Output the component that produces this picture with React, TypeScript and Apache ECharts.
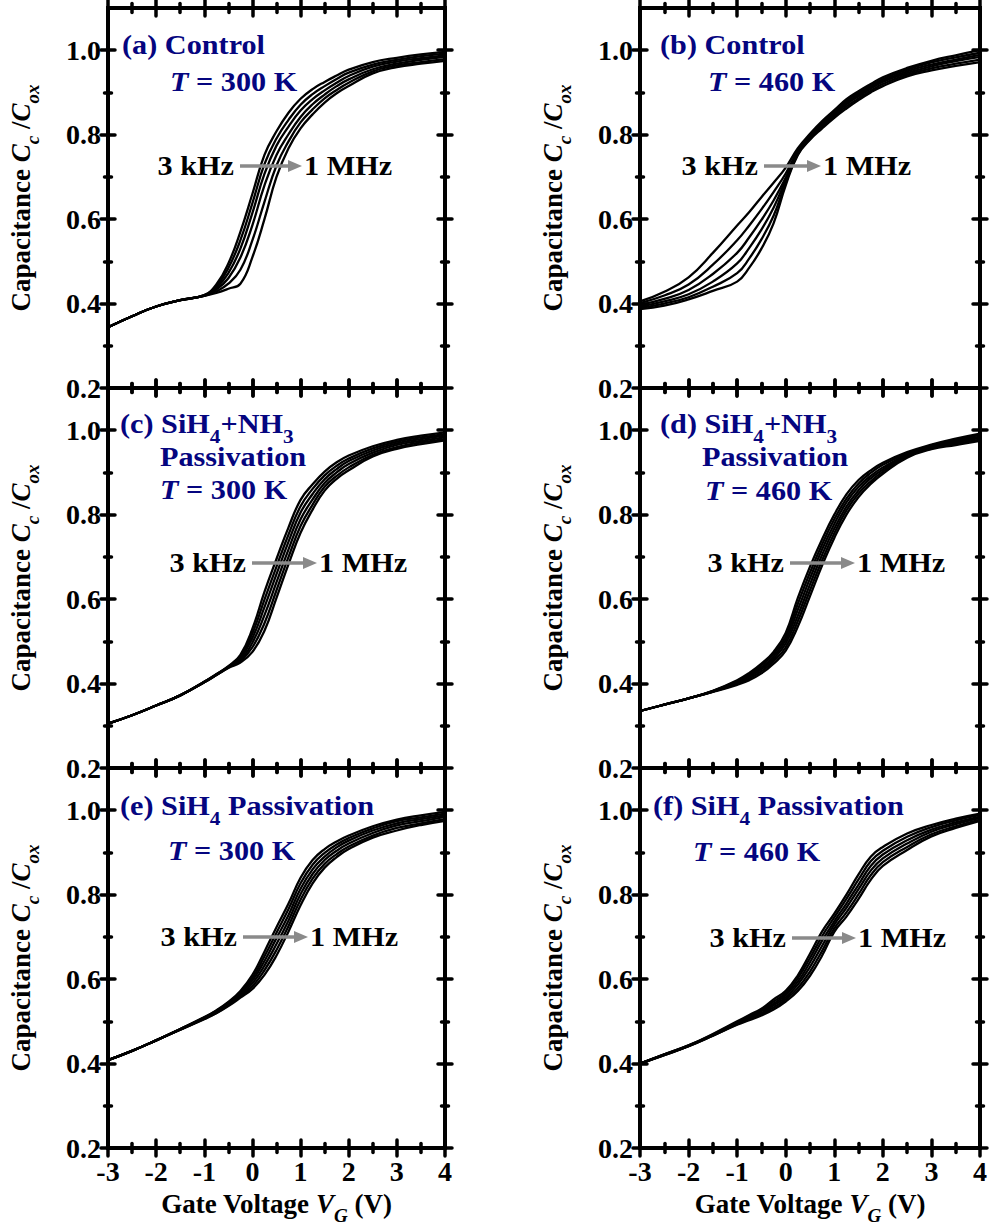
import { useEffect, useRef } from 'react';
import * as echarts from 'echarts';

// Gate voltage grid (V) shared by every curve
const VG = [-3, -2.5, -2, -1.5, -1, -0.75, -0.5, -0.25, 0, 0.25, 0.5, 0.75, 1, 1.25, 1.5, 1.75, 2, 2.5, 3, 3.5, 4];

// Curves go from 3 kHz (first) to 1 MHz (last)
const A_CURVES = [
  [0.344, 0.370, 0.393, 0.408, 0.420, 0.445, 0.495, 0.570, 0.660, 0.752, 0.808, 0.852, 0.885, 0.908, 0.925, 0.940, 0.954, 0.972, 0.982, 0.990, 0.996],
  [0.344, 0.370, 0.393, 0.408, 0.420, 0.441, 0.484, 0.550, 0.638, 0.730, 0.791, 0.835, 0.871, 0.896, 0.915, 0.932, 0.947, 0.966, 0.977, 0.986, 0.992],
  [0.344, 0.370, 0.393, 0.408, 0.419, 0.437, 0.472, 0.530, 0.615, 0.707, 0.774, 0.819, 0.857, 0.884, 0.905, 0.923, 0.939, 0.961, 0.973, 0.981, 0.988],
  [0.344, 0.370, 0.393, 0.408, 0.419, 0.433, 0.460, 0.509, 0.586, 0.680, 0.752, 0.801, 0.842, 0.872, 0.895, 0.915, 0.931, 0.955, 0.968, 0.977, 0.984],
  [0.344, 0.370, 0.393, 0.408, 0.418, 0.429, 0.447, 0.480, 0.550, 0.641, 0.727, 0.784, 0.829, 0.860, 0.886, 0.906, 0.923, 0.950, 0.964, 0.972, 0.979],
  [0.344, 0.370, 0.393, 0.408, 0.418, 0.425, 0.435, 0.447, 0.510, 0.600, 0.700, 0.768, 0.815, 0.848, 0.876, 0.898, 0.915, 0.945, 0.960, 0.968, 0.975],
];
const B_CURVES = [
  [0.405, 0.428, 0.462, 0.520, 0.585, 0.617, 0.652, 0.686, 0.722, 0.768, 0.802, 0.832, 0.858, 0.884, 0.903, 0.920, 0.936, 0.958, 0.975, 0.988, 1.000],
  [0.401, 0.419, 0.445, 0.492, 0.550, 0.585, 0.623, 0.664, 0.708, 0.762, 0.799, 0.829, 0.855, 0.880, 0.899, 0.916, 0.932, 0.954, 0.971, 0.983, 0.994],
  [0.397, 0.411, 0.432, 0.470, 0.520, 0.557, 0.598, 0.644, 0.698, 0.758, 0.796, 0.826, 0.852, 0.876, 0.895, 0.913, 0.928, 0.950, 0.966, 0.978, 0.989],
  [0.393, 0.405, 0.422, 0.452, 0.495, 0.532, 0.575, 0.627, 0.692, 0.756, 0.793, 0.822, 0.848, 0.872, 0.891, 0.909, 0.925, 0.946, 0.962, 0.974, 0.984],
  [0.390, 0.400, 0.415, 0.440, 0.472, 0.507, 0.552, 0.608, 0.686, 0.754, 0.790, 0.818, 0.844, 0.867, 0.886, 0.904, 0.920, 0.942, 0.957, 0.968, 0.978],
  [0.387, 0.395, 0.410, 0.430, 0.452, 0.485, 0.530, 0.590, 0.680, 0.752, 0.788, 0.815, 0.840, 0.862, 0.882, 0.900, 0.915, 0.938, 0.952, 0.963, 0.972],
];
const C_CURVES = [
  [0.305, 0.325, 0.348, 0.372, 0.404, 0.422, 0.441, 0.468, 0.530, 0.617, 0.695, 0.770, 0.835, 0.872, 0.902, 0.924, 0.940, 0.962, 0.977, 0.987, 0.995],
  [0.305, 0.325, 0.348, 0.372, 0.404, 0.422, 0.440, 0.464, 0.519, 0.599, 0.677, 0.753, 0.820, 0.861, 0.893, 0.916, 0.933, 0.957, 0.973, 0.983, 0.991],
  [0.305, 0.325, 0.348, 0.372, 0.404, 0.421, 0.439, 0.460, 0.508, 0.581, 0.659, 0.736, 0.805, 0.849, 0.884, 0.908, 0.927, 0.952, 0.969, 0.979, 0.987],
  [0.305, 0.325, 0.348, 0.372, 0.403, 0.421, 0.439, 0.457, 0.497, 0.562, 0.640, 0.718, 0.789, 0.836, 0.875, 0.900, 0.920, 0.947, 0.965, 0.975, 0.983],
  [0.305, 0.325, 0.348, 0.372, 0.403, 0.420, 0.438, 0.453, 0.486, 0.543, 0.621, 0.700, 0.773, 0.824, 0.866, 0.892, 0.912, 0.942, 0.960, 0.971, 0.979],
  [0.305, 0.325, 0.348, 0.372, 0.403, 0.420, 0.437, 0.450, 0.475, 0.525, 0.603, 0.683, 0.757, 0.812, 0.857, 0.885, 0.905, 0.938, 0.956, 0.967, 0.976],
];
const D_CURVES = [
  [0.335, 0.350, 0.365, 0.383, 0.408, 0.425, 0.447, 0.475, 0.520, 0.603, 0.677, 0.742, 0.800, 0.848, 0.882, 0.905, 0.923, 0.948, 0.966, 0.980, 0.992],
  [0.335, 0.350, 0.365, 0.382, 0.406, 0.422, 0.443, 0.470, 0.511, 0.589, 0.663, 0.730, 0.789, 0.838, 0.874, 0.899, 0.918, 0.945, 0.964, 0.977, 0.989],
  [0.335, 0.350, 0.365, 0.382, 0.404, 0.419, 0.438, 0.464, 0.503, 0.575, 0.649, 0.718, 0.778, 0.829, 0.866, 0.892, 0.912, 0.942, 0.962, 0.974, 0.985],
  [0.335, 0.350, 0.365, 0.381, 0.402, 0.416, 0.434, 0.459, 0.495, 0.561, 0.635, 0.705, 0.767, 0.819, 0.858, 0.886, 0.907, 0.940, 0.959, 0.971, 0.982],
  [0.335, 0.350, 0.365, 0.381, 0.399, 0.412, 0.429, 0.453, 0.486, 0.548, 0.621, 0.692, 0.756, 0.810, 0.850, 0.879, 0.902, 0.937, 0.957, 0.968, 0.978],
  [0.335, 0.350, 0.365, 0.380, 0.397, 0.408, 0.424, 0.447, 0.478, 0.535, 0.607, 0.680, 0.745, 0.800, 0.842, 0.873, 0.897, 0.935, 0.955, 0.965, 0.975],
];
const E_CURVES = [
  [0.408, 0.430, 0.455, 0.482, 0.510, 0.526, 0.546, 0.572, 0.610, 0.665, 0.723, 0.779, 0.840, 0.882, 0.908, 0.926, 0.940, 0.962, 0.978, 0.988, 0.996],
  [0.408, 0.430, 0.455, 0.482, 0.509, 0.525, 0.544, 0.569, 0.603, 0.654, 0.710, 0.766, 0.827, 0.871, 0.899, 0.919, 0.934, 0.957, 0.974, 0.983, 0.992],
  [0.408, 0.430, 0.455, 0.481, 0.508, 0.523, 0.542, 0.566, 0.597, 0.643, 0.697, 0.752, 0.814, 0.860, 0.890, 0.912, 0.928, 0.952, 0.969, 0.979, 0.988],
  [0.408, 0.430, 0.455, 0.481, 0.507, 0.522, 0.540, 0.562, 0.590, 0.632, 0.683, 0.739, 0.801, 0.849, 0.882, 0.904, 0.921, 0.946, 0.964, 0.974, 0.984],
  [0.408, 0.430, 0.455, 0.480, 0.506, 0.520, 0.538, 0.559, 0.583, 0.621, 0.669, 0.726, 0.788, 0.838, 0.873, 0.896, 0.914, 0.940, 0.958, 0.969, 0.979],
  [0.408, 0.430, 0.455, 0.480, 0.505, 0.519, 0.536, 0.556, 0.577, 0.610, 0.656, 0.713, 0.775, 0.827, 0.864, 0.889, 0.908, 0.935, 0.952, 0.965, 0.975],
];
const F_CURVES = [
  [0.400, 0.422, 0.443, 0.470, 0.500, 0.515, 0.530, 0.552, 0.572, 0.609, 0.660, 0.713, 0.755, 0.800, 0.848, 0.890, 0.913, 0.945, 0.965, 0.980, 0.992],
  [0.400, 0.422, 0.443, 0.469, 0.498, 0.513, 0.527, 0.547, 0.567, 0.602, 0.650, 0.702, 0.746, 0.790, 0.836, 0.879, 0.904, 0.937, 0.960, 0.976, 0.989],
  [0.400, 0.421, 0.442, 0.468, 0.496, 0.510, 0.524, 0.542, 0.562, 0.594, 0.640, 0.691, 0.737, 0.779, 0.824, 0.868, 0.895, 0.929, 0.954, 0.971, 0.985],
  [0.400, 0.421, 0.442, 0.467, 0.495, 0.508, 0.520, 0.538, 0.557, 0.587, 0.629, 0.679, 0.729, 0.769, 0.813, 0.857, 0.886, 0.921, 0.949, 0.967, 0.982],
  [0.400, 0.420, 0.441, 0.466, 0.493, 0.505, 0.517, 0.533, 0.552, 0.579, 0.618, 0.667, 0.720, 0.758, 0.801, 0.846, 0.877, 0.913, 0.943, 0.962, 0.978],
  [0.400, 0.420, 0.441, 0.466, 0.492, 0.503, 0.514, 0.528, 0.547, 0.572, 0.608, 0.656, 0.712, 0.748, 0.790, 0.835, 0.868, 0.906, 0.938, 0.958, 0.975],
];

const PANEL_CURVES = [A_CURVES, B_CURVES, C_CURVES, D_CURVES, E_CURVES, F_CURVES];
const PANEL_IDS = ['a', 'b', 'c', 'd', 'e', 'f'];
const CURVE_NAMES = ['3 kHz', 'f2', 'f3', 'f4', 'f5', '1 MHz'];

// Axis ticks
const X_MIN = -3;
const X_MAX = 4;
const Y_MIN = 0.2;
const Y_MAX = 1.1;
const X_MAJOR = [-3, -2, -1, 0, 1, 2, 3, 4];
const X_MINOR = [-2.5, -1.5, -0.5, 0.5, 1.5, 2.5, 3.5];
const Y_MAJOR = [0.2, 0.4, 0.6, 0.8, 1.0];
const Y_MINOR = [0.3, 0.5, 0.7, 0.9];

// Panel annotation texts
const PANEL_TEXTS = [
  ['{n|(a) Control}', '{it|T}{n| = 300 K}'],
  ['{n|(b) Control}', '{it|T}{n| = 460 K}'],
  ['{n|(c) SiH}{sb|4}{n|+NH}{sb|3}', '{n|Passivation}', '{it|T}{n| = 300 K}'],
  ['{n|(d) SiH}{sb|4}{n|+NH}{sb|3}', '{n|Passivation}', '{it|T}{n| = 460 K}'],
  ['{n|(e) SiH}{sb|4}{n| Passivation}', '{it|T}{n| = 300 K}'],
  ['{n|(f) SiH}{sb|4}{n| Passivation}', '{it|T}{n| = 460 K}'],
];
const FREQ_START = '3 kHz';
const FREQ_END = '1 MHz';

// Layout (pixels)
const COLS = [{ left: 108, width: 337 }, { left: 640, width: 340 }];
const ROWS = [{ top: 8, height: 380 }, { top: 388, height: 380 }, { top: 768, height: 380 }];
const TEXT_POS = [
  [[122, 45], [170, 82]],
  [[660, 45], [708, 82]],
  [[120, 424], [160, 457], [160, 490]],
  [[660, 424], [702, 457], [705, 491]],
  [[120, 806], [168, 851]],
  [[653, 806], [693, 852]],
];
const ARROW_POS = [
  [240, 302, 166],
  [764, 821, 166],
  [252, 317, 563],
  [790, 855, 563],
  [243, 308, 937],
  [792, 856, 938],
];

const FF = "'Liberation Serif', 'Times New Roman', Tinos, 'DejaVu Serif', serif";
const NAVY = '#05057f';
const SX = 1.12;

const NAME_RICH = {
  t: { fontFamily: FF, fontWeight: 'bold', fontSize: 27, color: '#000' },
  i: { fontFamily: FF, fontWeight: 'bold', fontStyle: 'italic', fontSize: 27, color: '#000' },
  s: { fontFamily: FF, fontWeight: 'bold', fontStyle: 'italic', fontSize: 19, color: '#000', padding: [24, 0, 0, 0] },
};
const Y_NAME = '{t|Capacitance }{i|C}{s|c}{t| /}{i|C}{s|ox}';
const X_NAME = '{t|Gate Voltage }{i|V}{s|G}{t| (V)}';

function gRich(color: string) {
  return {
    n: { fontFamily: FF, fontWeight: 'bold', fontSize: 27, fill: color },
    it: { fontFamily: FF, fontWeight: 'bold', fontStyle: 'italic', fontSize: 27, fill: color },
    sb: { fontFamily: FF, fontWeight: 'bold', fontSize: 19, fill: color, padding: [25, 0, 0, 0] },
  };
}

function gText(x: number, y: number, text: string, color: string, align: string) {
  return {
    type: 'text',
    x,
    y,
    scaleX: SX,
    silent: true,
    z: 10,
    style: {
      text,
      fill: color,
      fontFamily: FF,
      fontWeight: 'bold',
      fontSize: 27,
      align,
      textAlign: align,
      verticalAlign: 'middle',
      textVerticalAlign: 'middle',
      rich: gRich(color),
    },
  };
}

function tickAxis(gridIndex: number, position: string, values: number[], length: number, min: number, max: number) {
  return {
    type: 'value',
    gridIndex,
    position,
    min,
    max,
    offset: -length / 2,
    silent: true,
    axisLine: { show: false, onZero: false },
    axisTick: {
      show: true,
      inside: false,
      length,
      customValues: values,
      lineStyle: { color: '#000', width: 3.5, cap: 'round' },
    },
    axisLabel: { show: false },
    splitLine: { show: false },
  };
}

function buildOption() {
  const grid: any[] = [];
  const xAxis: any[] = [];
  const yAxis: any[] = [];
  const series: any[] = [];
  const graphic: any[] = [];

  for (let p = 0; p < 6; p++) {
    const row = Math.floor(p / 2);
    const col = p % 2;
    const bottomRow = row === 2;
    grid.push({
      left: COLS[col].left,
      width: COLS[col].width,
      top: ROWS[row].top,
      height: ROWS[row].height,
      containLabel: false,
      outerBoundsMode: 'none',
    });
    const frame = { show: true, onZero: false, lineStyle: { color: '#000', width: 4, cap: 'square' } };
    const labelStyle = { color: '#000', fontFamily: FF, fontWeight: 'bold', fontSize: 28 };

    xAxis.push({
      type: 'value', gridIndex: p, position: 'bottom', min: X_MIN, max: X_MAX,
      axisLine: frame, axisTick: { show: false }, splitLine: { show: false },
      axisLabel: { show: bottomRow, customValues: X_MAJOR, margin: 9, ...labelStyle, formatter: (v: number) => String(v) },
      name: bottomRow ? X_NAME : '', nameLocation: 'middle', nameGap: 34, nameTextStyle: { rich: NAME_RICH },
    });
    xAxis.push({
      type: 'value', gridIndex: p, position: 'top', min: X_MIN, max: X_MAX,
      axisLine: frame, axisTick: { show: false }, splitLine: { show: false }, axisLabel: { show: false },
    });
    for (const pos of ['bottom', 'top']) {
      xAxis.push(tickAxis(p, pos, X_MAJOR, 16, X_MIN, X_MAX));
      xAxis.push(tickAxis(p, pos, X_MINOR, 9, X_MIN, X_MAX));
    }

    yAxis.push({
      type: 'value', gridIndex: p, position: 'left', min: Y_MIN, max: Y_MAX,
      axisLine: frame, axisTick: { show: false }, splitLine: { show: false },
      axisLabel: { show: true, customValues: Y_MAJOR, margin: 7, ...labelStyle, formatter: (v: number) => v.toFixed(1) },
      name: Y_NAME, nameLocation: 'middle', nameRotate: 90, nameGap: 66, nameTextStyle: { rich: NAME_RICH },
    });
    yAxis.push({
      type: 'value', gridIndex: p, position: 'right', min: Y_MIN, max: Y_MAX,
      axisLine: frame, axisTick: { show: false }, splitLine: { show: false }, axisLabel: { show: false },
    });
    for (const pos of ['left', 'right']) {
      yAxis.push(tickAxis(p, pos, Y_MAJOR, 14, Y_MIN, Y_MAX));
      yAxis.push(tickAxis(p, pos, Y_MINOR, 7, Y_MIN, Y_MAX));
    }

    PANEL_CURVES[p].forEach((ys, k) => {
      series.push({
        type: 'line',
        name: `(${PANEL_IDS[p]}) ${CURVE_NAMES[k]}`,
        xAxisIndex: p * 6,
        yAxisIndex: p * 6,
        data: VG.map((x, i) => [x, ys[i]]),
        symbol: 'none',
        showSymbol: false,
        smooth: 0.45,
        clip: true,
        silent: true,
        z: 3,
        lineStyle: { color: '#000', width: 2.3 },
      });
    });

    PANEL_TEXTS[p].forEach((t, k) => {
      const [x, y] = TEXT_POS[p][k];
      graphic.push(gText(x, y, t, NAVY, 'left'));
    });
    const [xs, xe, ya] = ARROW_POS[p];
    graphic.push({
      type: 'line', silent: true, z: 10,
      shape: { x1: xs, y1: ya, x2: xe - 10, y2: ya },
      style: { stroke: '#8a8a8a', lineWidth: 3.5 },
    });
    graphic.push({
      type: 'polygon', silent: true, z: 10,
      shape: { points: [[xe - 14, ya - 6], [xe, ya], [xe - 14, ya + 6]] },
      style: { fill: '#8a8a8a' },
    });
    graphic.push(gText(xs - 6, ya, `{n|${FREQ_START}}`, '#000', 'right'));
    graphic.push(gText(xe + 2, ya, `{n|${FREQ_END}}`, '#000', 'left'));
  }

  return {
    animation: false,
    backgroundColor: '#ffffff',
    textStyle: { fontFamily: FF },
    grid,
    xAxis,
    yAxis,
    series,
    graphic,
  };
}

export default function App() {
  const ref = useRef<HTMLDivElement>(null);
  useEffect(() => {
    if (!ref.current) return;
    const chart = echarts.init(ref.current, undefined, { renderer: 'svg' });
    chart.setOption(buildOption() as any);
    return () => chart.dispose();
  }, []);
  return (
    <div
      ref={ref}
      style={{ position: 'absolute', left: 0, top: 0, width: 990, height: 1229, background: '#fff' }}
    />
  );
}
